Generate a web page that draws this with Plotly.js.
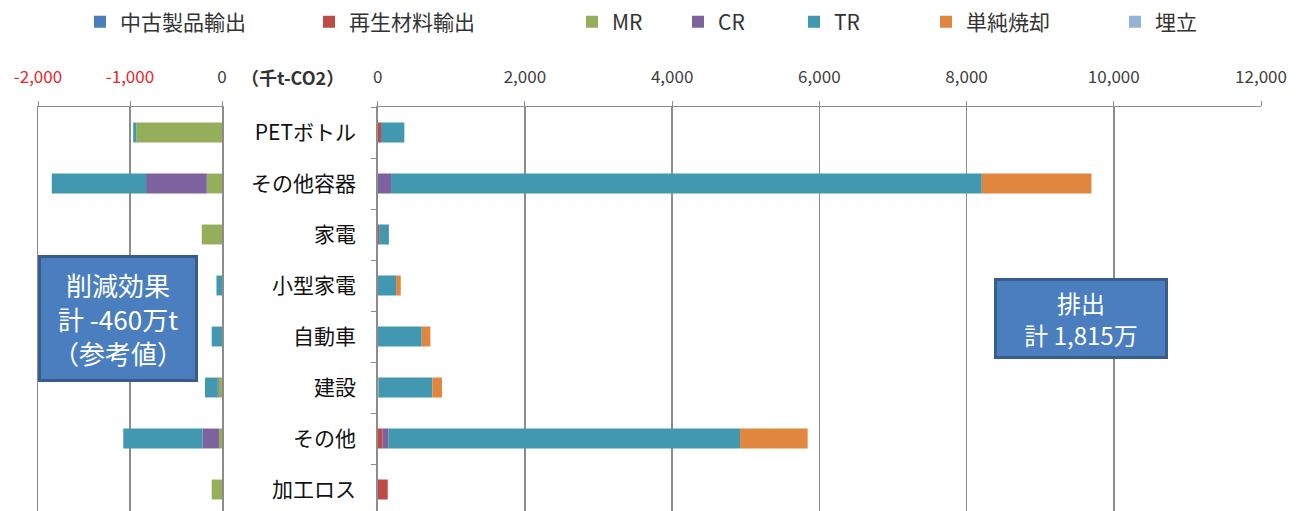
<!DOCTYPE html>
<html>
<head>
<meta charset="utf-8">
<script src="https://cdn.plot.ly/plotly-3.0.1.min.js"></script>
<style>
  html, body { margin: 0; padding: 0; background: #fff; }
  #chart { width: 1302px; height: 511px; }
</style>
</head>
<body>
<div id="chart"></div>
<script>
// カテゴリ
const categories = ['PETボトル', 'その他容器', '家電', '小型家電', '自動車', '建設', 'その他', '加工ロス'];
const seriesNames = ['中古製品輸出', '再生材料輸出', 'MR', 'CR', 'TR', '単純焼却', '埋立'];
const seriesColors = ['#4a7ebb', '#bf4b48', '#95ae5a', '#7e62a0', '#4198b0', '#e0863f', '#95b3d7'];

// 削減効果 (千t-CO2, 負の値)
const usedExportCut     = [0, 0, 0, 0, 0, 0, 0, 0];
const recycledExportCut = [0, 0, 0, 0, 0, 0, 0, 0];
const mrCut             = [-930, -165, -220, 0, 0, -35, -33, -112];
const crCut             = [0, -660, 0, 0, 0, -10, -177, 0];
const trCut             = [-35, -1025, 0, -60, -112, -140, -863, 0];
const incinerationCut   = [0, 0, 0, 0, 0, 0, 0, 0];
const landfillCut       = [0, 0, 0, 0, 0, 0, 0, 0];

// 排出 (千t-CO2)
const usedExportEmit     = [0, 0, 0, 0, 0, 0, 0, 0];
const recycledExportEmit = [45, 0, 20, 0, 0, 0, 63, 136];
const mrEmit             = [0, 0, 0, 0, 0, 12, 0, 0];
const crEmit             = [0, 181, 0, 0, 0, 0, 81, 0];
const trEmit             = [317, 8026, 132, 250, 598, 730, 4778, 0];
const incinerationEmit   = [0, 1490, 0, 63, 118, 131, 919, 0];
const landfillEmit       = [0, 0, 0, 0, 0, 0, 0, 0];

// 目盛
const leftTicks = [-2000, -1000, 0];
const leftTickText = ['<span style="color:#e8262c">-2,000</span>', '<span style="color:#e8262c">-1,000</span>', '0'];
const rightTicks = [0, 2000, 4000, 6000, 8000, 10000, 12000];
const rightTickText = ['0', '2,000', '4,000', '6,000', '8,000', '10,000', '12,000'];

// 凡例の位置 (文字の開始位置 px)
const legendTextX = [121, 350, 613, 719, 835, 967, 1156];

const W = 1302, H = 511;
const FONT = '"Noto Sans CJK JP", "Noto Sans", sans-serif';
const cutData = [usedExportCut, recycledExportCut, mrCut, crCut, trCut, incinerationCut, landfillCut];
const emitData = [usedExportEmit, recycledExportEmit, mrEmit, crEmit, trEmit, incinerationEmit, landfillEmit];

const traces = [];
seriesNames.forEach(function (name, i) {
    traces.push({
        type: 'bar', orientation: 'h', name: name,
        x: cutData[i], y: categories,
        xaxis: 'x', yaxis: 'y',
        width: 0.39,
        marker: { color: seriesColors[i] },
        showlegend: false, hoverinfo: 'x+name'
    });
});
seriesNames.forEach(function (name, i) {
    traces.push({
        type: 'bar', orientation: 'h', name: name,
        x: emitData[i], y: categories,
        xaxis: 'x2', yaxis: 'y2',
        width: 0.39,
        marker: { color: seriesColors[i] },
        legend: i === 0 ? 'legend' : 'legend' + (i + 1),
        hoverinfo: 'x+name'
    });
});

const plotTop = 107;
const yDomain = [0, 1 - plotTop / H];
const yRange = [-0.5 + (H - plotTop) / 51, -0.5];
const gridColor = '#8c8c8c';

const layout = {
    width: W, height: H,
    margin: { l: 0, r: 0, t: 0, b: 0 },
    paper_bgcolor: '#fff', plot_bgcolor: '#fff',
    barmode: 'relative',
    font: { family: FONT, size: 17, color: '#404040' },
    xaxis: {
        domain: [38 / W, 222 / W], range: [-2000, 0],
        side: 'top', anchor: 'y',
        tickmode: 'array', tickvals: leftTicks, ticktext: leftTickText,
        ticks: 'outside', ticklen: 5, tickcolor: gridColor, ticklabelstandoff: 11,
        showgrid: true, gridcolor: gridColor, gridwidth: 1.5,
        showline: true, linecolor: gridColor, linewidth: 1.5,
        zeroline: false, fixedrange: true,
        tickfont: { size: 17, color: '#404040' }
    },
    yaxis: {
        domain: yDomain, range: yRange, anchor: 'x',
        type: 'category', categoryorder: 'array', categoryarray: categories,
        showticklabels: false, ticks: '',
        showline: true, mirror: true, linecolor: gridColor, linewidth: 1.5,
        showgrid: false, fixedrange: true
    },
    xaxis2: {
        domain: [377.7 / W, 1261 / W], range: [0, 12000],
        side: 'top', anchor: 'y2',
        tickmode: 'array', tickvals: rightTicks, ticktext: rightTickText,
        ticks: 'outside', ticklen: 5, tickcolor: gridColor, ticklabelstandoff: 11,
        showgrid: true, gridcolor: gridColor, gridwidth: 1.5,
        showline: true, linecolor: gridColor, linewidth: 1.5,
        zeroline: false, fixedrange: true,
        tickfont: { size: 17, color: '#404040' }
    },
    yaxis2: {
        domain: yDomain, range: yRange, anchor: 'x2',
        type: 'category', categoryorder: 'array', categoryarray: categories,
        ticks: 'outside', tickson: 'boundaries', ticklen: 5, tickcolor: gridColor,
        ticklabelstandoff: 16,
        tickfont: { size: 21, color: '#111' },
        showline: true, linecolor: gridColor, linewidth: 1.5,
        showgrid: false, fixedrange: true
    },
    annotations: [
        {
            xref: 'paper', yref: 'paper', x: 292 / W, y: 1 - 77 / H,
            xanchor: 'center', yanchor: 'middle', showarrow: false,
            text: '<b>（千t-CO2）</b>', font: { size: 18, color: '#333' }
        },
        {
            xref: 'paper', yref: 'paper', x: 118 / W, y: 1 - 318 / H,
            xanchor: 'center', yanchor: 'middle', showarrow: false,
            width: 154, height: 121, borderpad: 0,
            bgcolor: '#4a7ebf', bordercolor: '#385d8a', borderwidth: 3,
            text: '削減効果<br>計 -460万t<br>（参考値）',
            align: 'center', valign: 'middle',
            font: { size: 26, color: '#fff' }
        },
        {
            xref: 'paper', yref: 'paper', x: 1080.5 / W, y: 1 - 318.8 / H,
            xanchor: 'center', yanchor: 'middle', showarrow: false,
            width: 168, height: 75, borderpad: 0,
            bgcolor: '#4a7ebf', bordercolor: '#385d8a', borderwidth: 3,
            text: '排出<br>計 1,815万',
            align: 'center', valign: 'middle',
            font: { size: 24, color: '#fff' }
        }
    ]
};

legendTextX.forEach(function (tx, i) {
    const key = i === 0 ? 'legend' : 'legend' + (i + 1);
    layout[key] = {
        orientation: 'h', x: (tx - 41) / W, y: 1 - 22 / H,
        xanchor: 'left', yanchor: 'middle',
        bgcolor: 'rgba(0,0,0,0)', borderwidth: 0,
        font: { family: FONT, size: 21, color: '#333' }
    };
});

Plotly.newPlot('chart', traces, layout, { displayModeBar: false, staticPlot: true });
</script>
</body>
</html>
